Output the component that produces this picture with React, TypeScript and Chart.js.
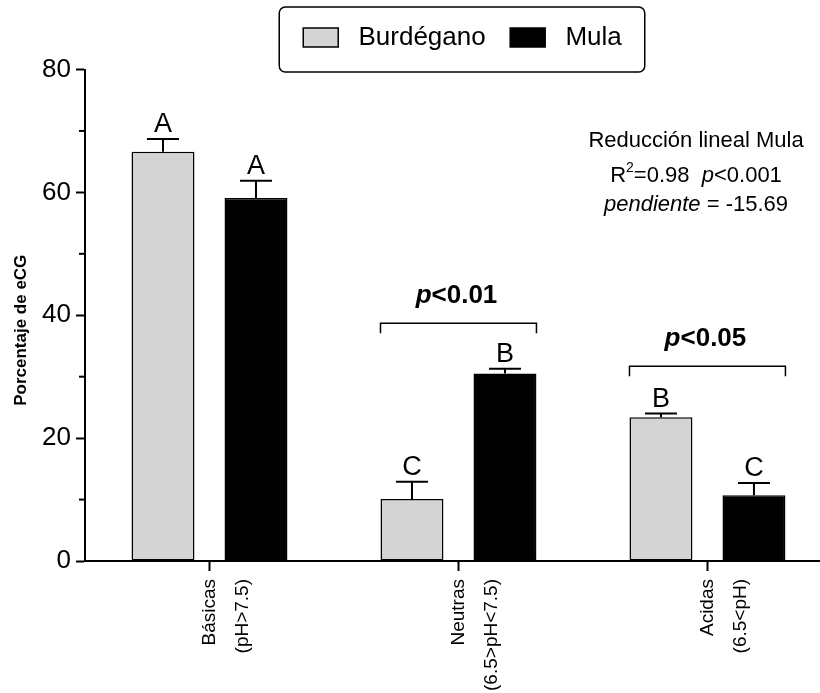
import React, { useEffect, useRef } from 'react';
import { Chart, registerables } from 'chart.js';
Chart.register(...registerables);

const FONT = '"Liberation Sans", Arial, Helvetica, sans-serif';

const categories = [
  ['Básicas', '(pH>7.5)'],
  ['Neutras', '(6.5>pH<7.5)'],
  ['Acidas', '(6.5<pH)'],
];
const seriesNames = ['Burdégano', 'Mula'];
const burdegano = [66.6, 10.1, 23.4];
const burdeganoErr = [2.1, 2.8, 0.6];
const mula = [59.1, 30.5, 10.7];
const mulaErr = [2.8, 0.8, 2.0];
const burdeganoLetters = ['A', 'C', 'B'];
const mulaLetters = ['A', 'B', 'C'];
const bracketCategories = [1, 2];
const bracketValues = [38.7, 31.7];
const bracketTexts = ['<0.01', '<0.05'];
const yMinorTicks = [10, 30, 50, 70];
const yTitle = 'Porcentaje de eCG';
const noteTitle = 'Reducción lineal Mula';
const noteR2 = '=0.98';
const noteP = '<0.001';
const noteSlope = ' = -15.69';

type Seg = { t: string; f: string; dy?: number };
function drawSegments(ctx: CanvasRenderingContext2D, segs: Seg[], cx: number, y: number) {
  let total = 0;
  for (const s of segs) {
    ctx.font = s.f;
    total += ctx.measureText(s.t).width;
  }
  let x = cx - total / 2;
  ctx.textAlign = 'left';
  ctx.textBaseline = 'alphabetic';
  for (const s of segs) {
    ctx.font = s.f;
    ctx.fillText(s.t, x, y + (s.dy || 0));
    x += ctx.measureText(s.t).width;
  }
}

const errors = [burdeganoErr, mulaErr];
const letters = [burdeganoLetters, mulaLetters];

const annotationsPlugin = {
  id: 'annotations',
  afterLayout(chart: any) {
    // shift the legend block to the right, as in the original figure
    if (chart.legend) chart.legend.left += 20;
  },
  afterDatasetsDraw(chart: any) {
    const ctx: CanvasRenderingContext2D = chart.ctx;
    const y = chart.scales.y;
    const area = chart.chartArea;
    ctx.save();
    ctx.strokeStyle = '#000';
    ctx.fillStyle = '#000';
    // error bars + letters
    chart.data.datasets.forEach((ds: any, i: number) => {
      const meta = chart.getDatasetMeta(i);
      meta.data.forEach((bar: any, j: number) => {
        const v = ds.data[j].y;
        const top = y.getPixelForValue(v + errors[i][j]);
        ctx.lineWidth = 2;
        ctx.beginPath();
        ctx.moveTo(bar.x, bar.y);
        ctx.lineTo(bar.x, top);
        ctx.moveTo(bar.x - 16, top);
        ctx.lineTo(bar.x + 16, top);
        ctx.stroke();
        ctx.font = `27px ${FONT}`;
        ctx.textAlign = 'center';
        ctx.textBaseline = 'alphabetic';
        ctx.fillText(letters[i][j], bar.x, top - 7);
      });
    });
    // brackets
    const m0 = chart.getDatasetMeta(0);
    const m1 = chart.getDatasetMeta(1);
    bracketCategories.forEach((c, k) => {
      const b0 = m0.data[c];
      const b1 = m1.data[c];
      const left = b0.x - b0.width / 2;
      const right = b1.x + b1.width / 2;
      const py = y.getPixelForValue(bracketValues[k]);
      ctx.lineWidth = 1.5;
      ctx.beginPath();
      ctx.moveTo(left, py + 10);
      ctx.lineTo(left, py);
      ctx.lineTo(right, py);
      ctx.lineTo(right, py + 10);
      ctx.stroke();
      drawSegments(
        ctx,
        [
          { t: 'p', f: `italic bold 26px ${FONT}` },
          { t: bracketTexts[k], f: `bold 26px ${FONT}` },
        ],
        (left + right) / 2 - 2,
        py - 20
      );
    });
    // minor ticks
    ctx.lineWidth = 2;
    yMinorTicks.forEach((v) => {
      const py = y.getPixelForValue(v);
      ctx.beginPath();
      ctx.moveTo(area.left - 6, py);
      ctx.lineTo(area.left, py);
      ctx.stroke();
    });
    // y axis title
    ctx.save();
    ctx.translate(21, (area.top + area.bottom) / 2 + 15);
    ctx.rotate(-Math.PI / 2);
    ctx.font = `bold 17px ${FONT}`;
    ctx.textAlign = 'center';
    ctx.textBaseline = 'middle';
    ctx.fillText(yTitle, 0, 0);
    ctx.restore();
    // regression note
    const cx = area.right - 124;
    const t0 = area.top;
    drawSegments(ctx, [{ t: noteTitle, f: `22px ${FONT}` }], cx, t0 + 77.5);
    drawSegments(
      ctx,
      [
        { t: 'R', f: `22px ${FONT}` },
        { t: '2', f: `14px ${FONT}`, dy: -10 },
        { t: noteR2 + '  ', f: `22px ${FONT}` },
        { t: 'p', f: `italic 22px ${FONT}` },
        { t: noteP, f: `22px ${FONT}` },
      ],
      cx,
      t0 + 112.5
    );
    drawSegments(
      ctx,
      [
        { t: 'pendiente', f: `italic 22px ${FONT}` },
        { t: noteSlope, f: `22px ${FONT}` },
      ],
      cx,
      t0 + 141.5
    );
    ctx.restore();
  },
  afterDraw(chart: any) {
    const lg = chart.legend;
    if (!lg || !lg.legendHitBoxes || !lg.legendHitBoxes.length) return;
    const hb = lg.legendHitBoxes;
    const first = hb[0];
    const last = hb[hb.length - 1];
    const left = first.left - 24;
    const right = last.left + last.width + 23;
    const cy = first.top + first.height / 2;
    const top = cy - 30.5;
    const bottom = cy + 34.5;
    const ctx: CanvasRenderingContext2D = chart.ctx;
    ctx.save();
    ctx.strokeStyle = '#000';
    ctx.lineWidth = 1.5;
    ctx.beginPath();
    (ctx as any).roundRect(left, top, right - left, bottom - top, 6);
    ctx.stroke();
    ctx.restore();
  },
};

export default function App() {
  const ref = useRef<HTMLCanvasElement>(null);
  useEffect(() => {
    document.body.style.margin = '0';
    const canvas = ref.current!;
    const chart = new Chart(canvas, {
      type: 'bar',
      data: {
        datasets: [
          {
            label: seriesNames[0],
            data: burdegano.map((v, i) => ({ x: i, y: v })),
            backgroundColor: '#d4d4d4',
            borderColor: '#000',
            borderWidth: 1.5,
            borderSkipped: false,
          },
          {
            label: seriesNames[1],
            data: mula.map((v, i) => ({ x: i, y: v })),
            backgroundColor: '#000',
            borderColor: '#000',
            borderWidth: 1.5,
            borderSkipped: false,
          },
        ],
      } as any,
      options: {
        responsive: false,
        animation: false,
        devicePixelRatio: 1,
        layout: { padding: 0 },
        datasets: { bar: { categoryPercentage: 0.747, barPercentage: 0.677 } } as any,
        plugins: {
          tooltip: { enabled: false },
          legend: {
            display: true,
            position: 'top',
            fullSize: false,
            labels: {
              boxWidth: 35,
              boxHeight: 19,
              padding: 24.5,
              color: '#000',
              font: { family: FONT, size: 26 },
              generateLabels: (chart: any) =>
                (Chart.defaults.plugins.legend.labels.generateLabels as any)(chart).map((l: any) => ({
                  ...l,
                  text: ' ' + l.text,
                })),
            },
          },
        },
        scales: {
          x: {
            type: 'linear',
            position: 'bottom',
            offset: false,
            min: -0.5,
            max: 2.452,
            afterBuildTicks: (s: any) => {
              s.ticks = categories.map((_, i) => ({ value: i }));
            },
            afterFit: (s: any) => {
              s.height = 132;
            },
            ticks: {
              autoSkip: false,
              minRotation: 90,
              maxRotation: 90,
              padding: 8,
              color: '#000',
              font: { family: FONT, size: 19, lineHeight: 1.74 },
              callback: (v: any) => categories[v as number] as any,
            },
            grid: {
              display: true,
              offset: false,
              drawOnChartArea: false,
              drawTicks: true,
              tickLength: 10,
              tickColor: '#000',
              tickWidth: 2,
            },
            border: { display: true, color: '#000', width: 2 },
          },
          xTop: {
            type: 'linear',
            position: 'top',
            display: true,
            grid: { display: false },
            border: { display: false },
            ticks: { display: false },
            afterFit: (s: any) => {
              s.height = 9;
            },
          },
          y: {
            type: 'linear',
            min: 0,
            max: 80,
            afterFit: (s: any) => {
              s.width = 85;
            },
            ticks: {
              stepSize: 20,
              padding: 5,
              color: '#000',
              font: { family: FONT, size: 26 },
            },
            grid: {
              display: true,
              drawOnChartArea: false,
              drawTicks: true,
              tickLength: 9,
              tickColor: '#000',
              tickWidth: 2,
            },
            border: { display: true, color: '#000', width: 2 },
          },
        } as any,
      },
      plugins: [annotationsPlugin],
    });
    return () => chart.destroy();
  }, []);
  return (
    <div style={{ width: 820, height: 693, overflow: 'hidden' }}>
      <canvas ref={ref} width={820} height={693} style={{ display: 'block' }} />
    </div>
  );
}
